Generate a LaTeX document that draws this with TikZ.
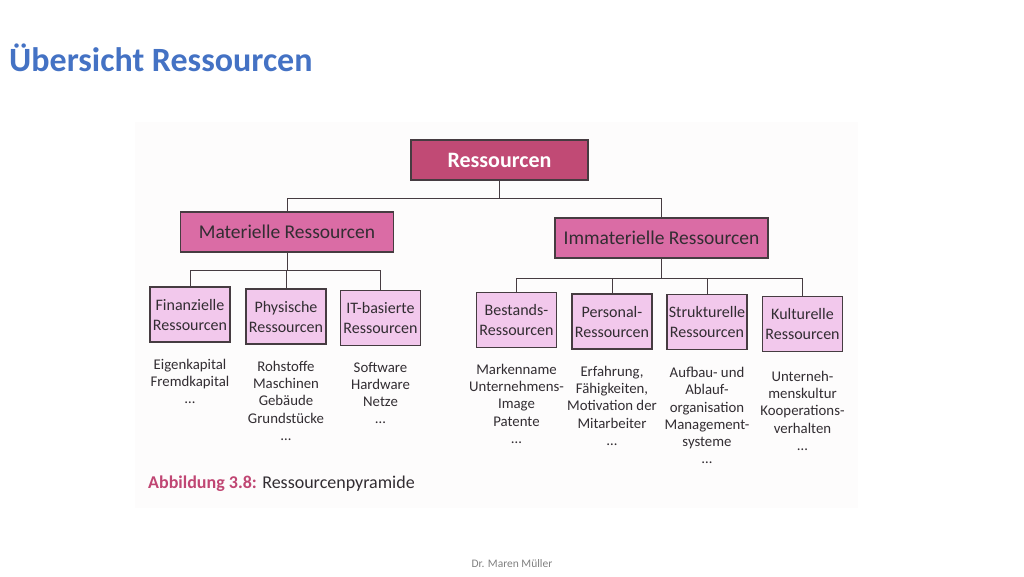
\documentclass[tikz,border=0pt]{standalone}
\usepackage{fontspec}
\setmainfont{Carlito}
\definecolor{titleblue}{RGB}{68,114,196}
\definecolor{topfill}{RGB}{193,74,117}
\definecolor{midfill}{RGB}{218,108,165}
\definecolor{lowfill}{RGB}{242,200,236}
\definecolor{boxline}{RGB}{70,60,65}
\definecolor{txtgray}{RGB}{50,45,50}
\definecolor{capmag}{RGB}{192,70,115}
\definecolor{scanbg}{RGB}{253,252,252}
\tikzset{
  topbox/.style={draw=boxline, line width=1.1pt, fill=topfill, text=white, font=\fontsize{22}{25}\selectfont\bfseries, minimum width=177pt, minimum height=40pt, inner sep=0pt},
  midbox/.style={draw=boxline, line width=1.1pt, fill=midfill, text=txtgray, font=\fontsize{19.5}{22}\selectfont, minimum width=213pt, minimum height=40pt, inner sep=0pt},
  lowbox/.style={draw=boxline, line width=1.1pt, fill=lowfill, text=txtgray, font=\fontsize{16}{20}\selectfont, minimum width=80pt, minimum height=55pt, inner sep=0pt, align=center},
  subtext/.style={text=txtgray, font=\fontsize{14.8}{17.2}\selectfont, align=center, anchor=north, inner sep=0pt},
  conn/.style={draw=boxline, line width=0.9pt}
}
\begin{document}
\begin{tikzpicture}[x=1pt,y=-1pt]
\useasboundingbox (0,0) rectangle (1024,576);
\fill[scanbg] (135,122) rectangle (858,508);
\node[anchor=west, text=titleblue, font=\fontsize{34}{38}\selectfont\bfseries, inner sep=0pt] (title) at (9,58) {Übersicht Ressourcen};

\node[topbox] (top) at (499.5,160) {Ressourcen};
\node[midbox] (mat) at (287,232) {Materielle Ressourcen};
\node[midbox] (imm) at (661.5,238) {Immaterielle Ressourcen};

\node[lowbox] (fin) at (190,314.5) {Finanzielle\\Ressourcen};
\node[lowbox] (phy) at (286,316.5) {Physische\\Ressourcen};
\node[lowbox] (itb) at (380.5,318) {IT-basierte\\Ressourcen};
\node[lowbox] (bes) at (516.5,320) {Bestands-\\Ressourcen};
\node[lowbox] (per) at (612,321.5) {Personal-\\Ressourcen};
\node[lowbox] (str) at (707,322) {Strukturelle\\Ressourcen};
\node[lowbox] (kul) at (802.5,324) {Kulturelle\\Ressourcen};

\coordinate (bus0) at (499.5,198);
\coordinate (bus1) at (287,270);
\coordinate (bus2) at (661.5,278);
\draw[conn] (top.south) -- (bus0);
\draw[conn] (bus0) -| (mat.north);
\draw[conn] (bus0) -| (imm.north);
\draw[conn] (mat.south) -- (bus1);
\draw[conn] (bus1) -| (fin.north);
\draw[conn] (bus1) -| (phy.north);
\draw[conn] (bus1) -| (itb.north);
\draw[conn] (imm.south) -- (bus2);
\draw[conn] (bus2) -| (bes.north);
\draw[conn] (bus2) -| (per.north);
\draw[conn] (bus2) -| (str.north);
\draw[conn] (bus2) -| (kul.north);

\node[subtext] (t1) at (190,359) {Eigenkapital\\Fremdkapital\\\dots};
\node[subtext] (t2) at (286,361) {Rohstoffe\\Maschinen\\Gebäude\\Grundstücke\\\dots};
\node[subtext] (t3) at (380.5,362) {Software\\Hardware\\Netze\\\dots};
\node[subtext] (t4) at (516.5,364) {Markenname\\Unternehmens-\\Image\\Patente\\\dots};
\node[subtext] (t5) at (612,366) {Erfahrung,\\Fähigkeiten,\\Motivation der\\Mitarbeiter\\\dots};
\node[subtext] (t6) at (707,367) {Aufbau- und\\Ablauf-\\organisation\\Management-\\systeme\\\dots};
\node[subtext] (t7) at (802.5,371) {Unterneh-\\menskultur\\Kooperations-\\verhalten\\\dots};

\node[anchor=west, inner sep=0pt, font=\fontsize{18}{21}\selectfont, text=txtgray] (cap) at (148,484) {\textcolor{capmag}{\bfseries Abbildung 3.8:} Ressourcenpyramide};

\node[inner sep=0pt, font=\fontsize{11.5}{13}\selectfont, text=gray] (foot) at (512,564) {Dr. Maren Müller};
\end{tikzpicture}
\end{document}
